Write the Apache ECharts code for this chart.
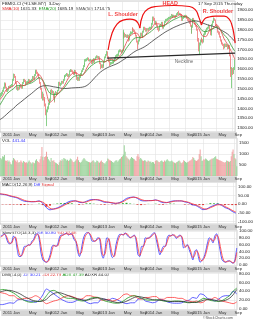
<!DOCTYPE html>
<html><head><meta charset="utf-8">
<script src="https://cdn.jsdelivr.net/npm/echarts@6/dist/echarts.min.js"></script>
<style>html,body{margin:0;padding:0;background:#fff}#c{width:256px;height:320px}</style>
</head><body><div id="c"></div>
<script>
// ---------- weekly bars (one per week, first week ending 2010-10-08) ----------
const weekStart = '2010-10-08';
const open = [1462,1470,1475,1490,1505,1528,1520,1507,1490,1495,1510,1508,1515,
1519,1545,1570,1562,1542,1530,1502,1505,1500,1515,1510,1505,1530,1545,1540,1530,1528,1534,1535,1545,1535,1540,1545,1560,1550,1570,1582,1595,1580,1575,1555,1530,1500,1460,1470,1450,1440,1420,1375,1387,1400,1425,1440,1490,1482,1485,1455,1440,1475,1480,1475,1490,
1531,1520,1525,1535,1530,1545,1560,1565,1570,1575,1565,1570,1590,1596,1590,1585,1575,1580,1590,1580,1550,1555,1545,1560,1575,1590,1599,1615,1625,1645,1645,1650,1655,1645,1645,1646,1630,1645,1650,1636,1650,1660,1665,1660,1660,1630,1610,1620,1610,1620,1640,1660,
1672,1685,1660,1640,1625,1630,1630,1635,1635,1640,1655,1665,1670,1670,1690,1695,1690,1690,1695,1760,1780,1770,1770,1765,1770,1750,1775,1785,1785,1805,1800,1795,1785,1770,1740,1730,1745,1760,1780,1770,1765,1790,1810,1805,1795,1805,1800,1805,1810,1810,1830,1845,
1860,1855,1835,1835,1820,1805,1800,1820,1825,1835,1825,1810,1820,1840,1850,1850,1855,1860,1860,1865,1875,1865,1870,1870,1865,1870,1880,1885,1880,1880,1875,1870,1850,1860,1865,1870,1870,1860,1850,1845,1835,1820,1790,1815,1855,1845,1830,1820,1800,1750,1720,1725,
1745,1750,1745,1740,1775,1780,1795,1805,1810,1820,1800,1780,1795,1825,1840,1855,1850,1825,1815,1790,1785,1765,1745,1740,1730,1725,1710,1725,1720,1720,1710,1720,1670,1605,1570,1595,1585,1600];
const close = [1470,1475,1490,1505,1528,1520,1507,1490,1495,1510,1508,1515,1519,
1545,1570,1562,1542,1530,1502,1505,1500,1515,1510,1505,1530,1545,1540,1530,1528,1534,1535,1545,1535,1540,1545,1560,1550,1570,1582,1595,1580,1575,1555,1530,1500,1460,1470,1450,1440,1420,1375,1387,1400,1425,1440,1490,1482,1485,1455,1440,1475,1480,1475,1490,1531,
1520,1525,1535,1530,1545,1560,1565,1570,1575,1565,1570,1590,1596,1590,1585,1575,1580,1590,1580,1550,1555,1545,1560,1575,1590,1599,1615,1625,1645,1645,1650,1655,1645,1645,1646,1630,1645,1650,1636,1650,1660,1665,1660,1660,1630,1610,1620,1610,1620,1640,1660,1672,
1685,1660,1640,1625,1630,1630,1635,1635,1640,1655,1665,1670,1670,1690,1695,1690,1690,1695,1760,1780,1770,1770,1765,1770,1750,1775,1785,1785,1805,1800,1795,1785,1770,1740,1730,1745,1760,1780,1770,1765,1790,1810,1805,1795,1805,1800,1805,1810,1810,1830,1845,1860,
1855,1835,1835,1820,1805,1800,1820,1825,1835,1825,1810,1820,1840,1850,1850,1855,1860,1860,1865,1875,1865,1870,1870,1865,1870,1880,1885,1880,1880,1875,1870,1850,1860,1865,1870,1870,1860,1850,1845,1835,1820,1790,1815,1855,1845,1830,1820,1800,1750,1720,1725,1745,
1750,1745,1740,1775,1780,1795,1805,1810,1820,1800,1780,1795,1825,1840,1855,1850,1825,1815,1790,1785,1765,1745,1740,1730,1725,1710,1725,1720,1720,1710,1720,1670,1605,1570,1595,1585,1600,1640];
const high = [1478,1484,1495,1510,1532,1531,1524,1510,1500,1514,1516,1519,1524,
1550,1577,1575,1565,1546,1533,1512,1510,1520,1520,1514,1534,1550,1550,1544,1534,1538,1540,1550,1548,1544,1550,1565,1564,1574,1588,1597,1597,1586,1578,1558,1534,1505,1485,1475,1458,1445,1425,1395,1410,1430,1450,1495,1498,1492,1488,1460,1480,1488,1484,1494,1535,
1535,1530,1540,1540,1550,1564,1570,1574,1580,1578,1574,1594,1600,1598,1594,1588,1585,1596,1594,1584,1560,1560,1564,1580,1594,1604,1620,1630,1650,1652,1655,1660,1658,1650,1652,1648,1650,1655,1652,1654,1664,1670,1668,1666,1664,1634,1624,1624,1624,1644,1664,1676,
1692,1690,1665,1645,1636,1636,1640,1640,1646,1660,1670,1675,1678,1695,1700,1700,1696,1700,1800,1790,1785,1778,1775,1776,1774,1780,1792,1790,1810,1812,1805,1800,1790,1774,1745,1750,1765,1785,1785,1774,1795,1815,1815,1810,1808,1808,1810,1815,1815,1835,1850,1867,
1867,1860,1845,1842,1826,1812,1824,1830,1840,1840,1830,1825,1845,1855,1856,1860,1865,1866,1870,1880,1878,1874,1876,1874,1875,1884,1890,1896,1886,1884,1880,1874,1864,1870,1875,1876,1874,1864,1855,1850,1840,1825,1820,1860,1860,1850,1835,1825,1805,1758,1735,1750,
1760,1758,1752,1780,1790,1800,1810,1815,1826,1822,1805,1800,1830,1845,1862,1858,1852,1830,1818,1795,1790,1768,1750,1745,1735,1728,1730,1730,1728,1724,1725,1722,1675,1610,1610,1605,1610,1650];
const low = [1455,1462,1470,1484,1500,1512,1502,1484,1482,1490,1502,1504,1510,
1512,1540,1555,1538,1525,1495,1490,1492,1496,1505,1500,1500,1525,1534,1525,1520,1524,1528,1530,1530,1530,1536,1540,1545,1545,1565,1578,1575,1570,1550,1525,1495,1450,1440,1440,1430,1410,1365,1310,1380,1395,1418,1435,1475,1475,1450,1430,1435,1470,1468,1470,1488,
1515,1512,1520,1525,1526,1540,1555,1560,1565,1560,1560,1566,1585,1585,1580,1570,1570,1575,1575,1545,1540,1540,1540,1555,1570,1585,1595,1610,1620,1638,1640,1645,1640,1638,1640,1625,1626,1640,1630,1632,1645,1655,1655,1652,1625,1600,1605,1604,1606,1616,1636,1655,
1668,1655,1635,1615,1620,1624,1626,1628,1630,1636,1650,1660,1662,1665,1685,1686,1682,1684,1690,1755,1760,1762,1758,1758,1740,1745,1770,1778,1780,1795,1788,1780,1765,1735,1700,1725,1740,1755,1765,1758,1760,1785,1798,1790,1790,1795,1795,1800,1802,1805,1825,1840,
1845,1830,1825,1815,1798,1790,1795,1815,1820,1818,1805,1805,1815,1835,1842,1845,1850,1854,1855,1860,1860,1860,1862,1860,1860,1865,1875,1875,1874,1870,1865,1845,1845,1855,1860,1862,1855,1845,1840,1830,1815,1780,1780,1810,1840,1825,1815,1795,1740,1690,1671,1720,
1735,1738,1730,1735,1770,1775,1790,1800,1805,1795,1772,1770,1790,1820,1835,1845,1820,1810,1785,1775,1760,1740,1730,1725,1718,1700,1705,1712,1712,1700,1702,1665,1600,1560,1503,1570,1575,1595];
const volume = [820,760,900,880,950,700,680,720,650,700,640,560,520,
700,820,760,700,650,720,600,640,620,700,650,600,680,640,600,620,580,650,700,640,600,560,620,600,580,700,760,680,640,600,760,900,1320,880,720,860,900,1100,880,760,700,640,820,700,680,720,640,600,580,540,500,620,
720,680,760,700,820,780,760,700,740,680,720,800,760,700,640,620,660,700,760,880,720,640,600,640,700,760,820,760,700,680,660,640,620,600,640,680,720,660,600,640,700,680,620,600,660,700,640,600,580,560,620,680,
800,760,720,700,680,640,600,620,680,720,700,640,700,760,800,860,900,980,1400,1100,900,840,800,760,720,800,860,820,780,760,700,680,900,1000,880,760,820,760,700,680,720,700,660,640,700,680,640,660,600,640,620,560,
680,720,700,660,640,620,680,700,660,640,700,660,720,760,700,680,640,680,700,660,620,600,580,620,640,680,700,660,600,580,620,720,680,640,600,620,640,680,700,720,760,860,820,740,700,680,720,760,1000,1200,900,680,
700,760,740,800,760,720,680,700,740,760,800,780,820,860,900,780,760,740,720,700,680,660,640,620,600,640,700,680,660,640,680,900,1100,1200,1000,820,760,441];

// ---------- moving averages / MACD / DMI (one value every 4 weeks from 2010-09-24) ----------
const slowStart = '2010-09-24';
const sma10 = [1440,1462,1495,1506,1515,1538,1520,1516,1530,1538,1552,1572,1545,1485,1430,1445,1470,1490,1515,1550,1575,1582,1572,1568,1598,1632,1645,1650,1652,1635,1645,1650,1642,1660,1688,1730,1765,1780,1782,1760,1765,1790,1805,1830,1830,1820,1828,1850,1864,1868,1877,1868,1863,1842,1830,1808,1770,1765,1795,1808,1825,1800,1755,1725,1690,1650];
const ema20 = [1410,1440,1470,1487,1500,1516,1515,1517,1524,1530,1542,1556,1545,1508,1478,1470,1472,1485,1505,1530,1552,1565,1566,1570,1588,1610,1624,1636,1638,1636,1644,1644,1645,1655,1672,1703,1728,1752,1760,1760,1768,1780,1792,1810,1815,1818,1826,1838,1850,1858,1866,1866,1864,1850,1842,1820,1795,1790,1797,1805,1815,1800,1775,1755,1720,1690];
const sma50 = [1340,1352,1368,1385,1400,1418,1432,1447,1462,1476,1492,1506,1514,1516,1514,1510,1507,1503,1501,1502,1504,1505,1506,1508,1514,1528,1548,1568,1585,1598,1608,1616,1623,1632,1644,1656,1670,1684,1695,1703,1712,1724,1738,1752,1765,1778,1790,1800,1810,1818,1826,1832,1838,1842,1845,1842,1835,1828,1822,1817,1810,1800,1790,1778,1760,1740];
const macdLine = [58,55,52,45,40,35,24,16,14,13,14,18,5,-20,-33,-28,-22,-12,0,12,18,18,10,8,16,24,26,24,18,10,10,6,3,8,18,32,38,40,32,20,18,20,20,24,16,8,8,14,18,18,18,12,8,-4,-8,-20,-32,-28,-16,-8,0,-6,-20,-28,-42,-52];
const macdSignal = [60,57,54,48,43,38,30,21,16,14,14,16,11,-5,-24,-29,-25,-17,-6,5,14,18,14,10,12,20,24,25,21,14,11,8,5,6,13,25,35,39,36,26,20,19,20,22,19,12,9,11,16,18,18,15,10,2,-5,-14,-26,-29,-21,-12,-4,-4,-14,-24,-36,-46];
const macdHist = [-2,-2,-2,-3,-3,-3,-6,-5,-2,-1,0,2,-6,-15,-9,1,3,5,6,7,4,0,-4,-2,4,4,2,-1,-3,-4,-1,-2,-2,2,5,7,3,1,-4,-6,-2,1,0,2,-3,-4,-1,3,2,0,0,-3,-2,-6,-3,-6,-6,1,5,4,4,-2,-6,-4,-6,-6];
const dmiMinus = [10,10,12,14,13,20,22,20,18,17,15,20,32,45,40,34,28,22,18,15,15,18,22,20,15,12,14,14,22,22,20,24,22,18,14,12,14,14,22,24,18,16,14,16,22,20,16,14,13,13,14,18,20,26,24,34,32,24,22,18,22,28,30,30,40,34];
const dmiPlus = [38,36,34,30,30,24,22,24,24,26,30,26,18,12,15,18,20,24,28,30,28,25,22,24,30,30,27,26,20,20,22,18,20,24,32,34,30,30,24,22,26,26,28,28,22,22,26,26,26,24,24,20,18,16,18,14,16,22,22,26,22,18,16,14,12,16];
const adx = [42,44,43,40,36,30,24,19,16,15,17,17,20,30,40,42,38,32,26,24,24,22,19,18,20,24,26,26,22,18,16,14,13,14,18,24,28,30,28,24,21,20,20,21,20,18,17,17,18,18,17,15,14,15,15,20,24,22,19,18,17,19,24,30,40,47];
const adxr = [38,40,42,42,40,37,33,28,24,20,18,17,18,22,30,35,37,36,33,30,27,24,22,20,20,22,24,25,24,22,19,17,15,14,15,18,22,26,28,27,25,23,21,20,20,19,18,17,17,17,17,16,15,15,15,17,20,21,21,20,18,18,20,24,32,44];

// ---------- slow stochastics (one value every 2 weeks from 2010-10-08) ----------
const stochStart = '2010-10-08';
const stochK = [85,88,92,80,65,62,68,85,78,45,25,25,40,55,55,60,58,70,75,90,92,75,35,15,10,8,15,30,55,58,55,58,80,88,88,92,93,88,92,90,75,70,40,25,45,75,90,95,95,85,70,70,72,80,78,35,20,45,80,75,40,22,28,60,80,90,90,88,95,88,82,80,85,88,70,30,25,55,55,80,78,80,85,92,95,75,50,30,45,55,55,80,88,85,90,85,78,85,88,80,50,55,60,45,30,15,40,45,25,8,15,22,40,65,80,75,65,85,92,70,40,15,10,8,12,12,8,5,15,50];
const stochD = [82,86,90,86,72,64,65,78,82,60,35,26,33,48,55,58,59,65,72,83,91,84,55,25,12,9,11,22,42,57,56,56,70,85,88,90,92,90,90,91,82,72,55,32,35,60,82,92,95,90,78,70,71,76,79,55,28,32,62,78,58,30,25,45,70,85,90,89,92,92,85,81,83,86,80,50,28,40,55,68,79,79,82,88,93,85,62,40,38,50,55,68,84,86,88,88,82,82,86,84,65,52,58,52,38,22,28,42,35,16,12,18,31,52,72,78,70,75,88,81,55,28,12,9,10,12,10,6,10,37];

// ---------- x-axis ticks ----------
const tickDates = ['2011-01-01','2011-05-01','2011-09-01','2012-01-01','2012-05-01','2012-09-01','2013-01-01','2013-05-01','2013-09-01','2014-01-01','2014-05-01','2014-09-01','2015-01-01','2015-05-01','2015-09-01'];
const tickMonths = ['Jan','May','Sep','Jan','May','Sep','Jan','May','Sep','Jan','May','Sep','Jan','May','Sep'];
const tickYears = ['2011','','','2012','','','2013','','','2014','','','2015','',''];
const viewStart = '2010-10-02', viewEnd = '2015-09-20';

// ---------- annotations (days since 2011-01-01, price) ----------
const neckDays = [736, 1723], neckPrices = [1656, 1681];
const lShoulderDays = [743,774,812,858,912,950,973,988], lShoulderPrices = [1697,1783,1829,1849,1854,1849,1834,1808];
const headDays = [988,1011,1050,1111,1249,1371,1418,1440,1463], headPrices = [1808,1875,1905,1918,1923,1918,1900,1869,1824];
const rShoulderDays = [1463,1486,1517,1571,1639,1677,1700,1716,1723], rShoulderPrices = [1824,1854,1864,1869,1869,1854,1819,1768,1732];
const noteNames = ['L. Shoulder','HEAD','R. Shoulder','Neckline'];
const noteDays = [859,1222,1590,1329], notePrices = [1875,1932,1890,1638];
const lastTag = 1685.83, volTag = 441;

// ---------- build ----------
const DAY0 = Date.UTC(2011,0,1);
function dayOf(s){const p=s.split('-');return (Date.UTC(+p[0],+p[1]-1,+p[2])-DAY0)/86400000;}
const w0 = dayOf(weekStart), s0 = dayOf(slowStart), k0 = dayOf(stochStart);
const xMin = dayOf(viewStart), xMax = dayOf(viewEnd);
const tickDays = tickDates.map(dayOf);
const monthOf = {}, yearOf = {};
tickDays.forEach((d,i)=>{monthOf[d]=tickMonths[i]; yearOf[d]=tickYears[i];});

const candles = close.map((c,i)=>[w0+7*i, open[i], c, low[i], high[i]]);
const vols = volume.map((v,i)=>[w0+7*i, v]);
const slowPts = arr => arr.map((v,i)=>[s0+28*i, v]);
const stochPts = arr => arr.map((v,i)=>[k0+14*i, v]);
const pairs = (xs,ys) => xs.map((x,i)=>[x, ys[i]]);

const FONT = 'Liberation Sans';
const UP = '#6cc46c', DOWN = '#ef7272';
const GRID_LINE = {show:true, lineStyle:{color:'#e3e3e3', width:0.6}};

const panels = [
  {top:1, height:131, min:1280, max:1946, split:13, fmt:v=>v.toFixed(2)},
  {top:138, height:38, min:0, max:1727, split:3, fmt:v=>String(v)},
  {top:182, height:42, min:-114, max:126, split:5, fmt:v=>v.toFixed(2)},
  {top:230, height:36, min:-2.9, max:102.9, split:5, fmt:v=>v.toFixed(2)},
  {top:272, height:38, min:-2.25, max:83.4, split:4, fmt:v=>v.toFixed(2)}
];
const bands = [132,176,224,266,310];

const grid = [], xAxis = [], yAxis = [];
panels.forEach((p,i)=>{
  grid.push({left:0, right:19, top:p.top, height:p.height, show:true, borderColor:'#b0b0b0', borderWidth:0.6, backgroundColor:'#fff'});
  xAxis.push({gridIndex:i, type:'value', min:xMin, max:xMax,
    axisLine:{show:false}, axisLabel:{show:false},
    axisTick:{show:false, customValues:tickDays}, splitLine:GRID_LINE});
  yAxis.push({gridIndex:i, type:'value', position:'right', min:p.min, max:p.max, splitNumber:p.split,
    axisLine:{show:false}, axisTick:{show:false}, splitLine:GRID_LINE,
    axisLabel:{fontSize:4.4, fontFamily:FONT, color:'#222', margin:2, showMinLabel:false, showMaxLabel:false, formatter:p.fmt}});
});
bands.forEach((t,b)=>{
  const gi = panels.length + b;
  grid.push({left:0, right:19, top:t, height:6, show:true, backgroundColor:'#d5d5d5', borderWidth:0});
  yAxis.push({gridIndex:gi, type:'value', min:0, max:1, show:false});
  xAxis.push({gridIndex:gi, type:'value', min:xMin, max:xMax, axisLine:{show:false}, axisTick:{show:false}, splitLine:{show:false},
    axisLabel:{inside:true, margin:1, align:'left', customValues:tickDays, fontSize:4.2, fontFamily:FONT, color:'#333',
      formatter:v=>monthOf[v]||''}});
  xAxis.push({gridIndex:gi, type:'value', min:xMin, max:xMax, axisLine:{show:false}, axisTick:{show:false}, splitLine:{show:false},
    axisLabel:{inside:true, margin:1, align:'right', customValues:tickDays, fontSize:4.2, fontFamily:FONT, color:'#333',
      formatter:v=>(yearOf[v]? yearOf[v]+' ' : '')}});
});

const line = (xi, data, color, w, extra) => Object.assign({type:'line', xAxisIndex:xi, yAxisIndex:xi, data, symbol:'none',
  lineStyle:{color, width:w||0.8}, silent:true}, extra||{});

const series = [
  {type:'candlestick', xAxisIndex:0, yAxisIndex:0, data:candles, barWidth:1, encode:{x:0, y:[1,2,3,4]},
    itemStyle:{color:UP, color0:DOWN, borderColor:UP, borderColor0:DOWN, borderWidth:0.8}},
  line(0, slowPts(sma50), '#3a3a3a', 0.8, {smooth:0.3}),
  line(0, slowPts(ema20), '#2e9b2e', 0.8, {smooth:0.3}),
  line(0, slowPts(sma10), '#e04848', 0.8, {smooth:0.3}),
  line(0, pairs(neckDays, neckPrices), '#2a2a2a', 1.2, {
    markLine:{silent:true, symbol:'none', lineStyle:{opacity:0}, data:[{yAxis:lastTag}],
      label:{show:true, position:'end', distance:1, formatter:lastTag.toFixed(2), backgroundColor:'#3a9a3a', color:'#fff',
        fontSize:4.4, fontFamily:FONT, padding:[1,1,0,1]}}}),
  line(0, pairs(lShoulderDays, lShoulderPrices), '#ee1111', 1.2, {smooth:0.5}),
  line(0, pairs(headDays, headPrices), '#ee1111', 1.2, {smooth:0.5}),
  line(0, pairs(rShoulderDays, rShoulderPrices), '#ee1111', 1.2, {smooth:0.5}),
  {type:'scatter', xAxisIndex:0, yAxisIndex:0, symbolSize:0, silent:true,
    data:noteNames.map((n,i)=>({name:n, value:[noteDays[i], notePrices[i]],
      label: i===3 ? {color:'#444', fontSize:4.8} : {color:'#ee1111', fontSize:5.4, fontWeight:'bold'}})),
    label:{show:true, position:'inside', formatter:p=>p.name, fontFamily:FONT},
    itemStyle:{color:'transparent'}},
  {type:'bar', xAxisIndex:1, yAxisIndex:1, data:vols, barWidth:1, silent:true,
    itemStyle:{color:p=>close[p.dataIndex]>=open[p.dataIndex]?'#9ad39a':'#f0a2a2'},
    markLine:{silent:true, symbol:'none', lineStyle:{opacity:0}, data:[{yAxis:volTag}],
      label:{show:true, position:'end', distance:1, formatter:String(volTag), backgroundColor:'#e8e800', color:'#222',
        fontSize:4.4, fontFamily:FONT, padding:[1,1,0,1]}}},
  {type:'bar', xAxisIndex:2, yAxisIndex:2, data:slowPts(macdHist), barWidth:2, silent:true,
    itemStyle:{color:p=>p.value[1]>=0?'#33aa33':'#dd3333'}},
  line(2, slowPts(macdLine), '#3030ff', 0.8, {smooth:0.3}),
  line(2, slowPts(macdSignal), '#ff3030', 0.8, {smooth:0.3}),
  line(3, stochPts(stochK), '#3535ff', 0.8, {smooth:0.3}),
  line(3, stochPts(stochD), '#ff3535', 0.8, {smooth:0.3}),
  line(4, slowPts(dmiMinus), '#3a3aff', 0.8, {smooth:0.3}),
  line(4, slowPts(dmiPlus), '#ff3a3a', 0.8, {smooth:0.3}),
  line(4, slowPts(adx), '#1f9a1f', 0.8, {smooth:0.3}),
  line(4, slowPts(adxr), '#333', 0.8, {smooth:0.3})
];

const st = c => ({fontSize:4.4, fontFamily:FONT, fill:c});
const R = {k:st('#222'), r:st('#e02020'), g:st('#1f9a1f'), b:st('#2f2fff'), d:st('#555')};
const txt = (left, top, text, rich) => ({type:'text', left, top, silent:true,
  style:{text, rich, fontSize:4.4, fontFamily:FONT, fill:'#222'}});

const graphic = [
  txt(2, 1.5, '{k|FBMKLCI (^KLSE.MY)  3-Day}', R),
  txt(198, 1.5, '{k|17 Sep 2015 Thursday}', R),
  txt(2, 6.5, '{r|SMA(10)} {k|1631.33}  {g|EMA(20)} {k|1685.19}  {d|SMA(50)} {k|1714.75}', R),
  txt(2, 139, '{k|VOL} {b|441.44}', R),
  txt(2, 183, '{k|MACD(12,26,9)} {b|Diff} {r|Signal}', R),
  txt(2, 231, '{k|SlowSTO(14,3,3)} {b|%K 50.80} {r|%D 37.68}', R),
  txt(2, 273, '{k|DMI(14,0)} {b|-DI 30.21} {r|+DI 22.78} {g|ADX 47.39} {k|ADXR 44.02}', R),
  txt(203, 316, '{k|\u00a9StockCharts.com}', {k:{fontSize:3.6, fontFamily:FONT, fill:'#555'}})
];

const chart = echarts.init(document.getElementById('c'), null, {renderer:'canvas', devicePixelRatio:1});
chart.setOption({animation:false, backgroundColor:'#fff', grid, xAxis, yAxis, series, graphic});
</script>
</body></html>
